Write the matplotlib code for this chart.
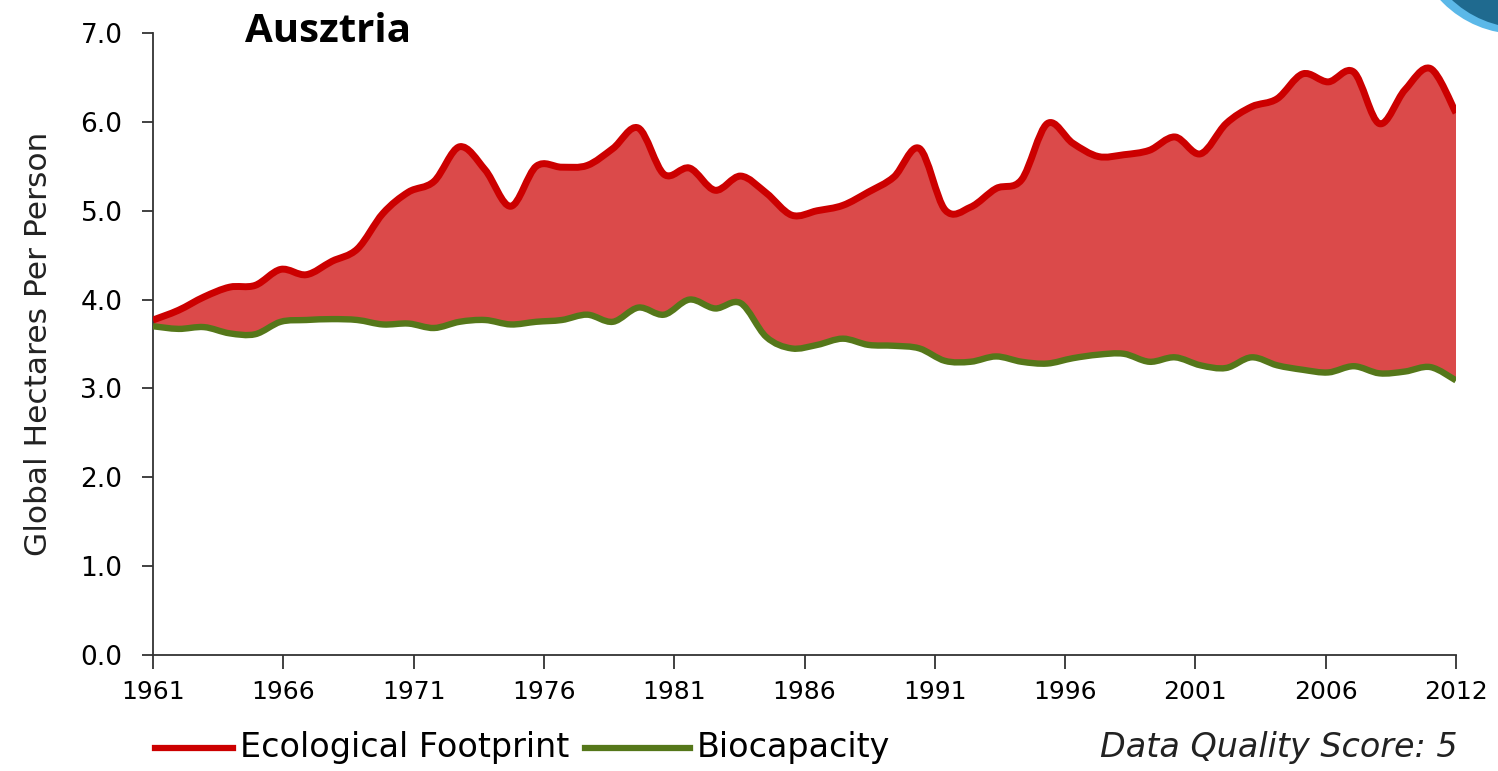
# -*- coding: utf-8 -*-
"""
Ausztria: ecological footprint vs. biocapacity, 1961-2012
"""

import numpy as np
import matplotlib
matplotlib.use("Agg")
import matplotlib.pyplot as plt
from matplotlib.path import Path
from matplotlib.patches import PathPatch, Circle
from matplotlib.lines import Line2D
from matplotlib.transforms import IdentityTransform

YEARS = list(range(1961, 2013))

FOOTPRINT = [
    3.77, 3.88, 4.03, 4.14, 4.16, 4.34, 4.28, 4.43, 4.57, 4.97,
    5.21, 5.33, 5.72, 5.46, 5.05, 5.50, 5.49, 5.51, 5.70, 5.93,
    5.41, 5.48, 5.23, 5.39, 5.20, 4.95, 5.00, 5.06, 5.21, 5.38,
    5.70, 5.01, 5.04, 5.25, 5.35, 5.98, 5.76, 5.61, 5.63, 5.68,
    5.83, 5.64, 5.98, 6.17, 6.26, 6.54, 6.45, 6.56, 5.98, 6.36,
    6.60, 6.10,
]

BIOCAPACITY = [
    3.70, 3.67, 3.69, 3.62, 3.61, 3.75, 3.77, 3.78, 3.77, 3.72,
    3.73, 3.68, 3.75, 3.77, 3.72, 3.75, 3.77, 3.83, 3.75, 3.91,
    3.83, 4.00, 3.90, 3.96, 3.58, 3.45, 3.49, 3.56, 3.49, 3.48,
    3.45, 3.31, 3.30, 3.36, 3.30, 3.28, 3.34, 3.38, 3.39, 3.30,
    3.35, 3.26, 3.23, 3.35, 3.26, 3.21, 3.18, 3.25, 3.17, 3.19,
    3.24, 3.09,
]

X_TICK_LABELS = ["1961", "1966", "1971", "1976", "1981", "1986",
                 "1991", "1996", "2001", "2006", "2012"]
Y_TICKS = [0, 1, 2, 3, 4, 5, 6, 7]

RED_LINE = "#CC0000"
RED_FILL = "#DB4A4A"
GREEN_LINE = "#55771A"
AXIS_COLOR = "#333333"
FONT = "DejaVu Sans"

W, H = 1498, 771


def smooth_path(x, y):
    """Catmull-Rom curve through the points, as cubic Bezier segments."""
    pts = np.column_stack([np.asarray(x, float), np.asarray(y, float)])
    verts = [pts[0]]
    codes = [Path.MOVETO]
    n = len(pts)
    for i in range(n - 1):
        p0 = pts[i - 1] if i > 0 else pts[i]
        p1 = pts[i]
        p2 = pts[i + 1]
        p3 = pts[i + 2] if i + 2 < n else pts[i + 1]
        verts += [p1 + (p2 - p0) / 6.0, p2 - (p3 - p1) / 6.0, p2]
        codes += [Path.CURVE4] * 3
    return verts, codes


def band_path(x, top, bottom):
    tv, tc = smooth_path(x, top)
    bv, bc = smooth_path(x[::-1], bottom[::-1])
    verts = tv + [bv[0]] + bv[1:] + [tv[0]]
    codes = tc + [Path.LINETO] + bc[1:] + [Path.CLOSEPOLY]
    return Path(verts, codes)


def main() -> None:
    fig = plt.figure(figsize=(W / 100, H / 100), dpi=100)
    ax = fig.add_axes([153 / W, 1 - 655 / H, (1456 - 153) / W, (655 - 33) / H])

    x = np.array(YEARS, float)
    fp = np.array(FOOTPRINT)
    bc = np.array(BIOCAPACITY)

    ax.add_patch(PathPatch(band_path(x, fp, bc), facecolor=RED_FILL,
                           edgecolor="none", zorder=2))

    v, c = smooth_path(x, bc)
    ax.add_patch(PathPatch(Path(v, c), facecolor="none", edgecolor=GREEN_LINE,
                           linewidth=4.6, capstyle="butt", joinstyle="round", zorder=3))
    v, c = smooth_path(x, fp)
    ax.add_patch(PathPatch(Path(v, c), facecolor="none", edgecolor=RED_LINE,
                           linewidth=5.0, capstyle="butt", joinstyle="round", zorder=4))

    ax.set_xlim(YEARS[0], YEARS[-1])
    ax.set_ylim(0, 7)

    ax.set_xticks(np.linspace(YEARS[0], YEARS[-1], len(X_TICK_LABELS)))
    ax.set_xticklabels(X_TICK_LABELS)
    ax.set_yticks(Y_TICKS)
    ax.set_yticklabels([f"{t:.1f}" for t in Y_TICKS])

    for s in ("top", "right"):
        ax.spines[s].set_visible(False)
    for s in ("left", "bottom"):
        ax.spines[s].set_color(AXIS_COLOR)
        ax.spines[s].set_linewidth(1.3)

    ax.tick_params(axis="x", direction="out", length=10, width=1.3, color=AXIS_COLOR,
                   pad=8, labelsize=18)
    ax.tick_params(axis="y", direction="out", length=8, width=1.3, color=AXIS_COLOR,
                   pad=14, labelsize=19)
    for lab in ax.get_xticklabels() + ax.get_yticklabels():
        lab.set_family(FONT)

    ax.set_ylabel("Global Hectares Per Person", fontsize=22.5, family=FONT,
                  color="#222222", labelpad=20)

    fig.text(245 / W, 1 - 32 / H, "Ausztria", fontsize=29, fontweight="bold",
             family="Open Sans", va="center", ha="left")

    # legend along the bottom
    y_leg = 1 - 748 / H
    fig.add_artist(Line2D([155 / W, 233 / W], [y_leg, y_leg],
                          color=RED_LINE, linewidth=4.5, transform=fig.transFigure))
    fig.text(240 / W, y_leg, "Ecological Footprint", fontsize=24, family=FONT,
             va="center", ha="left")
    fig.add_artist(Line2D([585 / W, 690 / W], [y_leg, y_leg],
                          color=GREEN_LINE, linewidth=4.5, transform=fig.transFigure))
    fig.text(697 / W, y_leg, "Biocapacity", fontsize=24, family=FONT,
             va="center", ha="left")
    fig.text(1458 / W, y_leg, "Data Quality Score: 5", fontsize=24, family=FONT,
             style="italic", va="center", ha="right", color="#222222")

    # corner ornament, in pixel coordinates
    fig.add_artist(Circle((1518, H + 72), 106, facecolor="#5BB8E8",
                          edgecolor="none", transform=IdentityTransform()))
    fig.add_artist(Circle((1523, H + 76), 104, facecolor="#1F6A8F",
                          edgecolor="none", transform=IdentityTransform()))

    fig.savefig("out.png", dpi=100)
    plt.close(fig)


if __name__ == "__main__":
    main()
